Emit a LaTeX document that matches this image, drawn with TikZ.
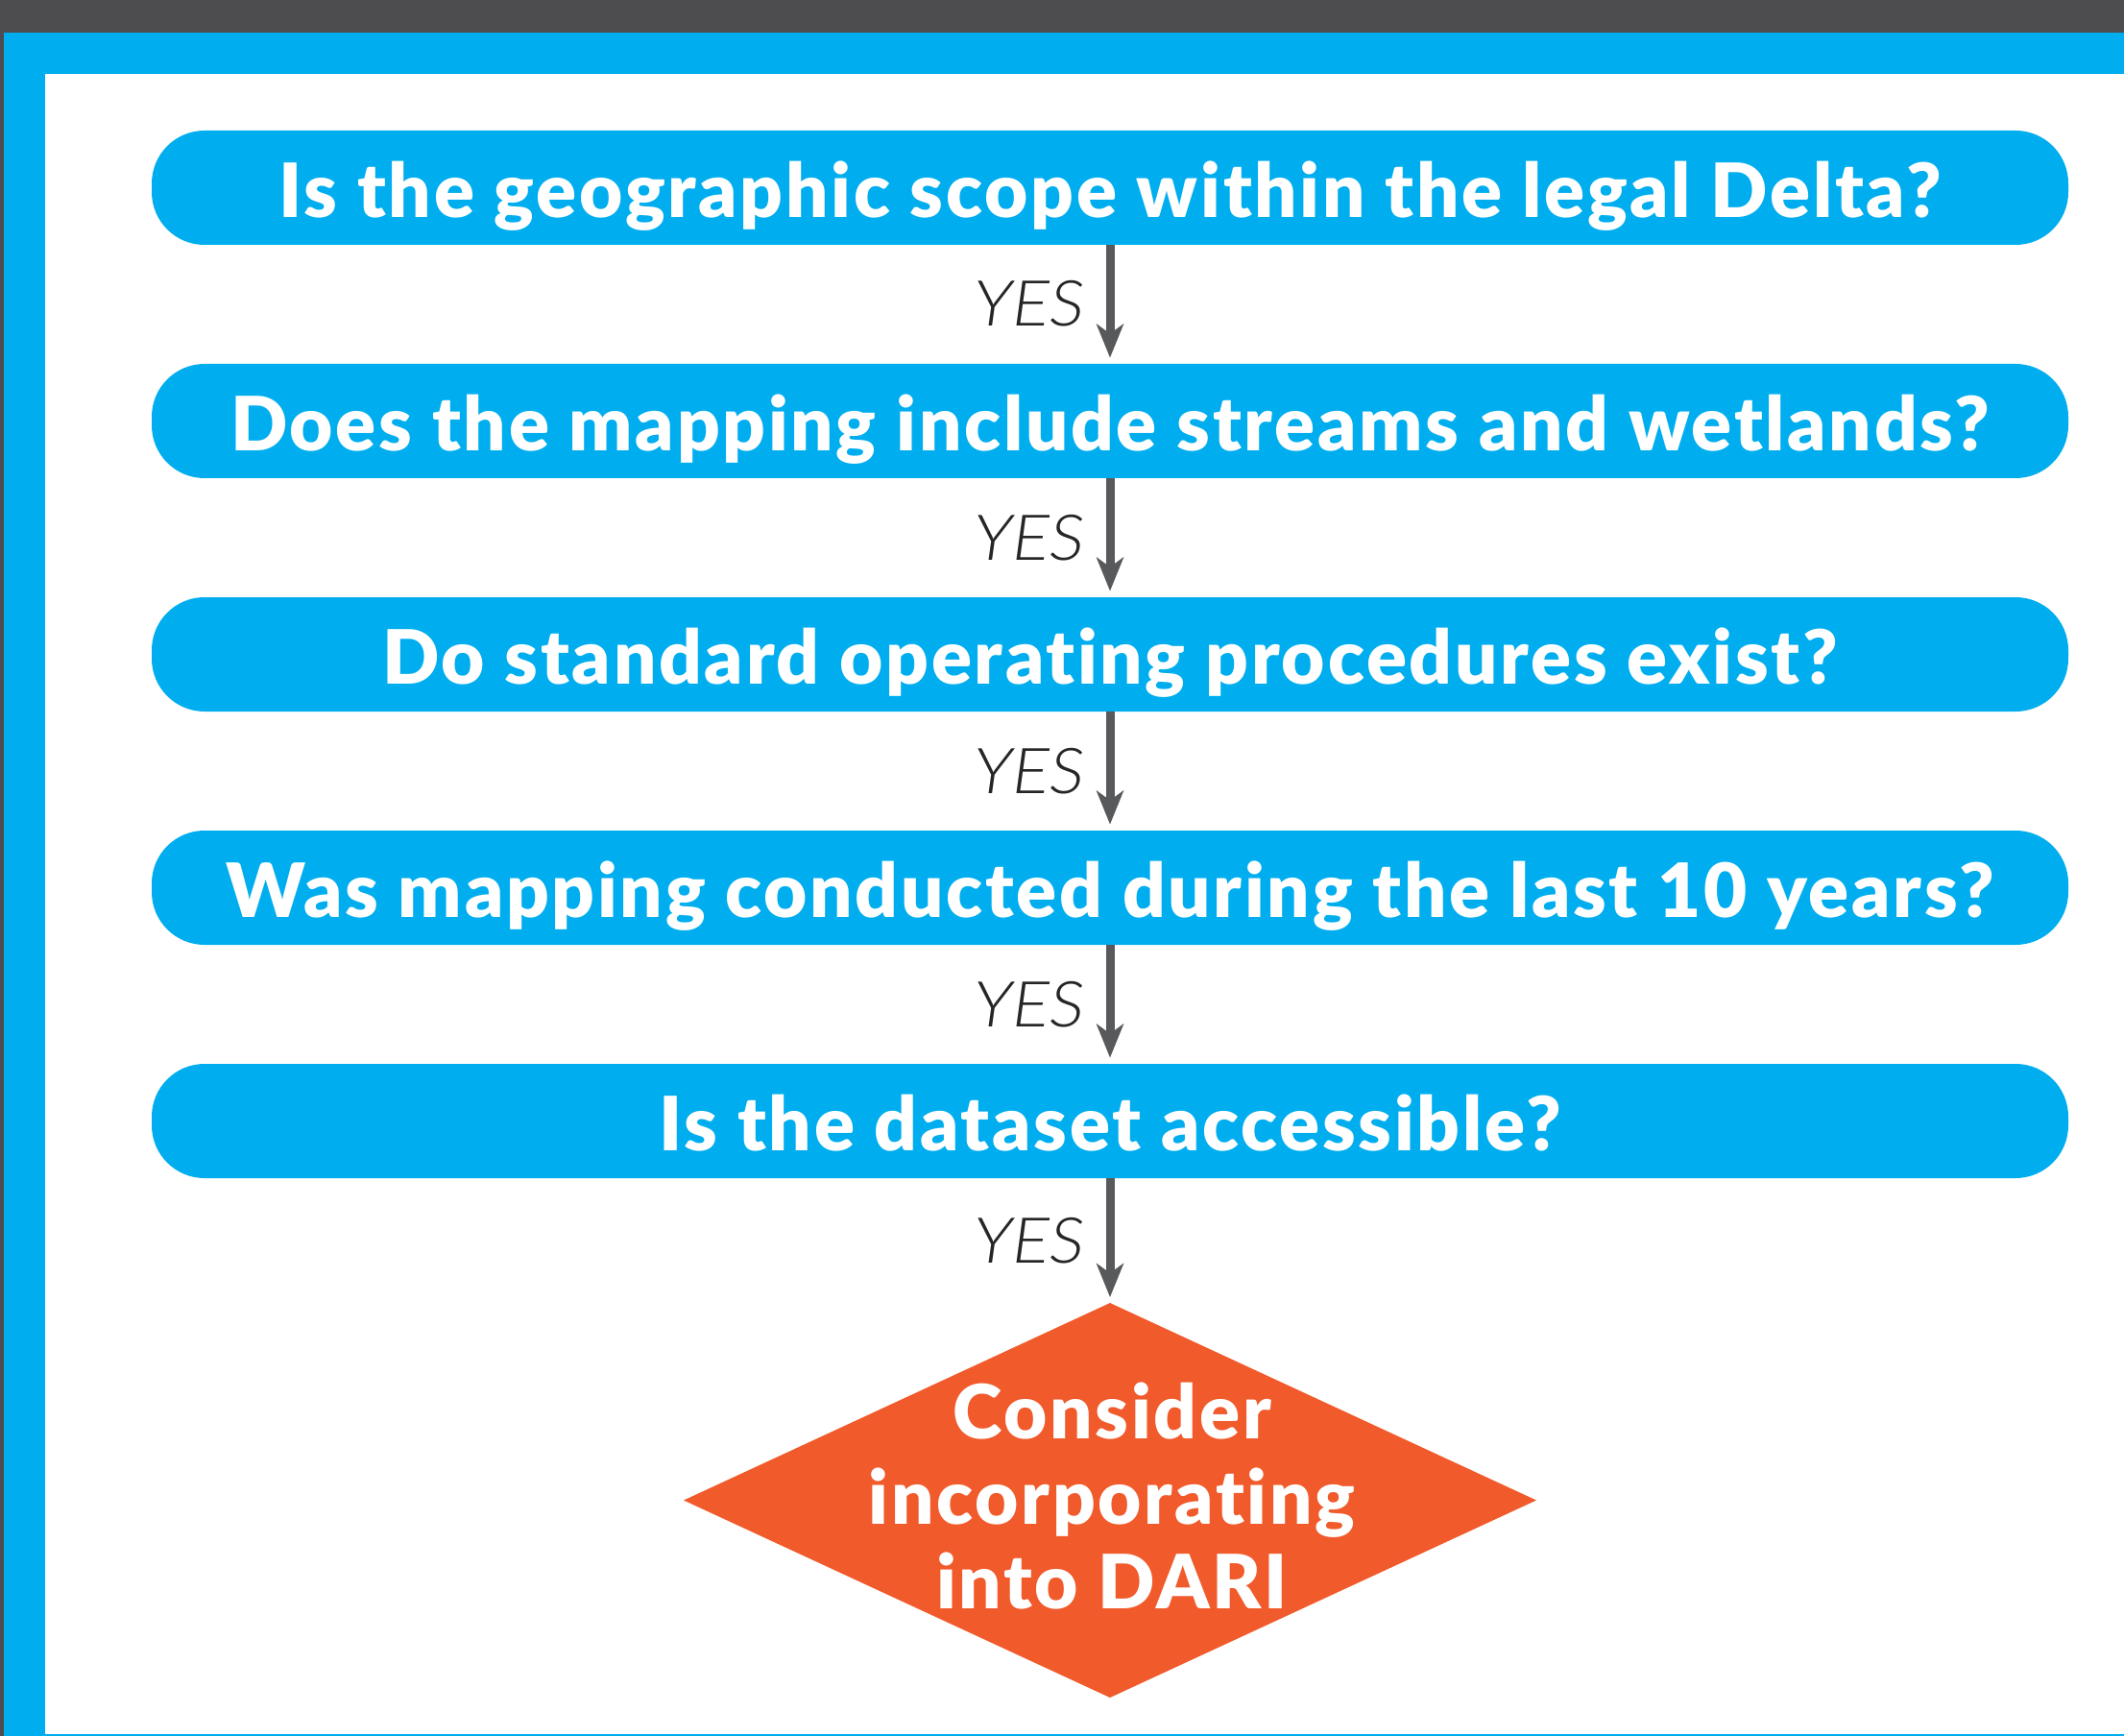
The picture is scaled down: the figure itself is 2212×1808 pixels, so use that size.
\documentclass[tikz,border=0pt]{standalone}
\usepackage{fontspec}
\newfontfamily\latofont{Lato}
\newfontfamily\heavyfont{Lato Black}[LetterSpace=3.5,Ligatures=NoCommon]
\newfontfamily\yesfont{Lato Light Italic}
\usetikzlibrary{arrows.meta,shapes.geometric}
\definecolor{cblue}{HTML}{00AEEF}
\definecolor{corange}{HTML}{F15A2B}
\definecolor{cdark}{HTML}{4D4D4F}
\definecolor{carrow}{HTML}{58595B}
\begin{document}
\begin{tikzpicture}[x=0.5pt,y=-0.5pt,
  qbox/.style={rectangle, rounded corners=27.5pt, fill=cblue, minimum width=998pt,
    minimum height=59.5pt, inner sep=0pt, text=white,
    font=\heavyfont\fontsize{39}{44}\selectfont, text height=31pt, text depth=0pt},
  flow/.style={draw=carrow, line width=4.5pt,
    -{Stealth[length=17.5pt,width=14pt,inset=5pt]}, shorten >=3pt},
  yes/.style={font=\yesfont\fontsize{33}{36}\selectfont, text=black!85, inner sep=0pt,
    text height=23pt, text depth=0pt, anchor=east, xshift=-11pt},
  dshape/.style={diamond, fill=corange, minimum width=444pt, minimum height=205.5pt,
    inner sep=0pt, outer sep=0pt},
  dtext/.style={align=center, text=white, inner sep=0pt,
    font=\heavyfont\fontsize{39}{44.25}\selectfont}
]
\useasboundingbox (0,0) rectangle (2212,1808);
\fill[cdark] (0,0) rectangle (2212,1808);
\fill[cblue] (4,34) rectangle (2212,1808);
\fill[white] (47,77) rectangle (2212,1806);

\node[qbox] (q1) at (1156,195.5) {Is the geographic scope within the legal Delta?};
\node[qbox] (q2) at (1156,438.5) {Does the mapping include streams and wetlands?};
\node[qbox] (q3) at (1156,681.5) {Do standard operating procedures exist?};
\node[qbox] (q4) at (1156,924.5) {Was mapping conducted during the last 10 years?};
\node[qbox] (q5) at (1156,1167.5) {Is the dataset accessible?};

\node[dshape] (d) at (1156,1562.5) {};
\node[dtext] (dt) at (1158,1558) {Consider\\incorporating\\into DARI};

\draw[flow] (q1.south) -- (q2.north) node[yes, midway] {\scalebox{1.1}[1]{YES}};
\draw[flow] (q2.south) -- (q3.north) node[yes, midway] {\scalebox{1.1}[1]{YES}};
\draw[flow] (q3.south) -- (q4.north) node[yes, midway] {\scalebox{1.1}[1]{YES}};
\draw[flow] (q4.south) -- (q5.north) node[yes, midway] {\scalebox{1.1}[1]{YES}};
\draw[flow] (q5.south) -- (d.north) node[yes, midway] {\scalebox{1.1}[1]{YES}};
\end{tikzpicture}
\end{document}
